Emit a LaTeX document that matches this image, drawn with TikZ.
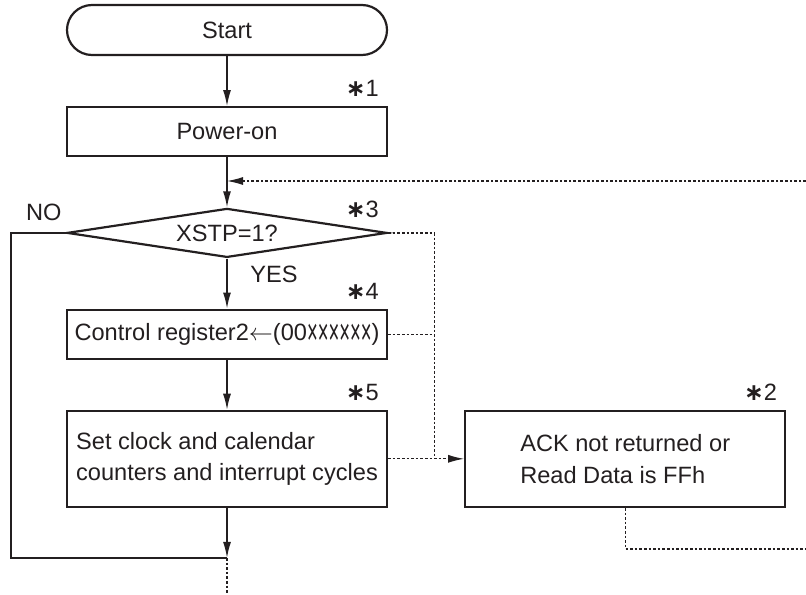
\documentclass[tikz,border=0pt]{standalone}
\usepackage{fontspec}
\setmainfont{Liberation Sans}
\newfontfamily\symfont{DejaVu Sans}
\usepackage{graphicx}
\usepackage{tikz}
\usetikzlibrary{arrows.meta,positioning,calc,shapes.geometric}
\definecolor{ink}{HTML}{231F20}
\newcommand{\dcx}{\raisebox{-0.2em}{\scalebox{0.78}[1.55]{×}}}
\newcommand{\nstar}{{\symfont\bfseries ∗}}

\begin{document}
\begin{tikzpicture}[x=0.5pt,y=-0.5pt,
  every node/.style={font=\fontsize{11.8}{15.8}\selectfont,text=ink},
  flowbox/.style={draw=ink,line width=1.1pt,minimum width=160pt,minimum height=24.5pt,inner sep=0pt},
  tallbox/.style={flowbox,minimum height=48pt,align=left},
  flowdec/.style={flowbox,diamond,aspect=6.5},
  starlbl/.style={inner sep=0pt,anchor=south east},
  flowline/.style={draw=ink,line width=0.7pt},
  flowarr/.style={flowline,-{Latex[length=8pt,width=4pt]}},
  dotline/.style={draw=ink,line width=0.6pt,dash pattern=on 1.3pt off 1pt},
  node distance=25pt]
  \useasboundingbox (0,0) rectangle (806,594);
  % main column
  \node[flowbox,rounded corners=12.5pt,minimum height=25pt] (start) at (227,30) {Start};
  \node[flowbox,below=of start] (power) {Power-on};
  \node[flowdec,below=of power] (xstp) {XSTP=1?};
  \node[flowbox,below=of xstp] (ctrl) {Control register2$\leftarrow$(00\dcx\dcx\dcx\dcx\dcx\dcx)};
  \node[tallbox,below=of ctrl] (setc) {Set clock and calendar\\counters and interrupt cycles};
  \node[tallbox,right=38pt of setc] (ack) {ACK not returned or\\Read Data is FFh};
  % notes
  \node[starlbl] (n1) at ([xshift=-4.5pt,yshift=4.5pt]power.north east) {\nstar1};
  \node[starlbl] (n3) at ([xshift=-4.5pt,yshift=7.5pt]xstp.east) {\nstar3};
  \node[starlbl] (n4) at ([xshift=-4.5pt,yshift=4.5pt]ctrl.north east) {\nstar4};
  \node[starlbl] (n5) at ([xshift=-4.5pt,yshift=4.5pt]setc.north east) {\nstar5};
  \node[starlbl] (n2) at ([xshift=-4.5pt,yshift=4.5pt]ack.north east) {\nstar2};
  \node[starlbl] (no) at ([xshift=-2pt,yshift=6pt]xstp.west) {NO};
  \node[inner sep=0pt,anchor=north west] (yes) at ([xshift=11.5pt,yshift=-3.5pt]xstp.south) {YES};
  % connector points
  \coordinate (jn) at ([xshift=23pt]setc.east);
  \coordinate (jb) at ([yshift=-25pt]setc.south);
  \coordinate (inR) at (806,181);
  \coordinate (outR) at (806,549);
  \coordinate (bot) at (227,594);
  % solid flow
  \draw[flowarr] (start) -- (power);
  \draw[flowarr] (power) -- (xstp);
  \draw[flowarr] (xstp) -- (ctrl);
  \draw[flowarr] (ctrl) -- (setc);
  \draw[flowarr] (setc) -- (jb);
  \draw[flowline,line width=0.6pt] (xstp.west) -- ++(-27.5pt,0) |- (jb);
  % error path
  \draw[dotline] (xstp.east) -| (jn);
  \draw[dotline] (ctrl.east) -- (ctrl.east -| jn);
  \draw[dotline,-{Latex[length=8pt,width=4pt]}] (setc.east) -- (ack.west);
  \draw[dotline] (ack.south) |- (outR);
  \draw[dotline,-{Latex[length=8pt,width=4pt]}] (inR) -- (inR -| power.south);
  \draw[dotline] (jb) -- (bot);
\end{tikzpicture}
\end{document}
